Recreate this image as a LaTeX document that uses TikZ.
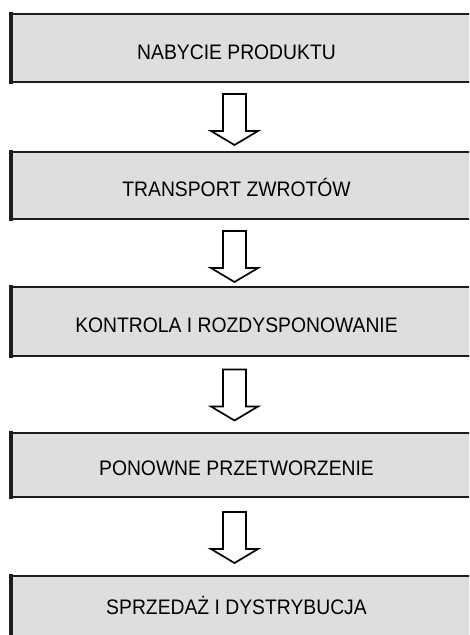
\documentclass[tikz,border=0pt]{standalone}
\usepackage{fontspec}
\setmainfont{Liberation Sans}[FakeStretch=0.92]
\definecolor{boxfill}{RGB}{222,222,222}
\definecolor{boxline}{RGB}{28,28,28}
\begin{document}
\begin{tikzpicture}[x=1pt,y=-1pt,
  box/.style={rectangle, draw=boxline, fill=boxfill, line width=2pt, minimum width=470pt, inner sep=0pt, anchor=west},
  lbl/.style={font=\fontsize{21}{24}\selectfont, text=black, anchor=base, inner sep=0pt},
  barrow/.style={draw=black, fill=white, line width=1.7pt, line join=miter},
  leftedge/.style={draw=boxline, line width=3.7pt}]
\useasboundingbox (0,0) rectangle (469,635);
\clip (0,0) rectangle (469,635);
\node[box, minimum height=68.3pt] (b1) at (10.8,47.85) {};
\node[box, minimum height=67.3pt] (b2) at (10.8,185.35) {};
\node[box, minimum height=69pt] (b3) at (10.8,321.5) {};
\node[box, minimum height=63.8pt] (b4) at (10.8,464.6) {};
\node[box, minimum height=74pt] (b5) at (10.8,613) {};
\foreach \b in {b1,b2,b3,b4,b5}{
  \draw[leftedge] ([yshift=1pt]\b.north west) -- ([yshift=-1pt]\b.south west);
}
\node[lbl] (t1) at (236.5,59.3) {NABYCIE PRODUKTU};
\node[lbl] (t2) at (236.5,196.5) {TRANSPORT ZWROTÓW};
\node[lbl] (t3) at (236.5,332.5) {KONTROLA I ROZDYSPONOWANIE};
\node[lbl] (t4) at (236.5,475.5) {PONOWNE PRZETWORZENIE};
\node[lbl] (t5) at (236.5,614) {SPRZEDAŻ I DYSTRYBUCJA};
\foreach \b/\d in {b1/11,b2/11,b3/12.5,b4/14.5}{
  \draw[barrow] ([shift={(-23.8,\d)}]\b.south) -- ++(0,37) -- ++(-12,0) -- ++(23.5,14) -- ++(23.5,-14) -- ++(-12,0) -- ++(0,-37) -- cycle;
}
\end{tikzpicture}
\end{document}
